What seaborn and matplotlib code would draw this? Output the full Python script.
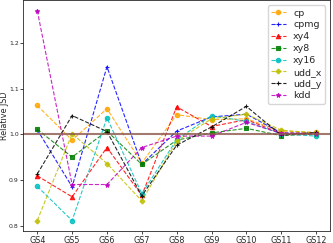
import matplotlib
matplotlib.use("Agg")
import matplotlib.pyplot as plt
import seaborn as sns
import pandas as pd

states = ["GS4", "GS5", "GS6", "GS7", "GS8", "GS9", "GS10", "GS11", "GS12"]
cp     = [1.063, 0.987, 1.056, 0.937, 1.043, 1.032, 1.034, 1.007, 1.004]
cpmg   = [1.010, 0.885, 1.148, 0.934, 1.007, 1.038, 1.044, 1.003, 1.002]
xy4    = [0.909, 0.863, 0.971, 0.866, 1.060, 1.017, 1.032, 1.002, 1.003]
xy8    = [1.011, 0.950, 1.007, 0.934, 0.987, 1.003, 1.013, 0.997, 1.001]
xy16   = [0.886, 0.811, 1.036, 0.870, 0.988, 1.041, 1.028, 1.001, 0.996]
udd_x  = [0.811, 1.001, 0.936, 0.854, 0.985, 1.034, 1.044, 1.009, 1.003]
udd_y  = [0.913, 1.041, 1.006, 0.865, 0.976, 1.016, 1.061, 0.998, 1.004]
kdd    = [1.271, 0.890, 0.890, 0.971, 0.996, 0.996, 1.026, 1.002, 1.001]

series = {"cp": cp, "cpmg": cpmg, "xy4": xy4, "xy8": xy8, "xy16": xy16,
          "udd_x": udd_x, "udd_y": udd_y, "kdd": kdd}
colors = {"cp": "orange", "cpmg": "b", "xy4": "r", "xy8": "g", "xy16": "c",
          "udd_x": "y", "udd_y": "k", "kdd": "m"}
markers = {"cp": "o", "cpmg": "+", "xy4": "^", "xy8": "s", "xy16": "o",
           "udd_x": "P", "udd_y": "+", "kdd": "*"}

sns.set_style("ticks")
plt.rcParams["font.family"] = ["DejaVu Sans"]

fig = plt.figure(figsize=(3.33, 2.43), dpi=100)
ax = fig.add_axes([0.07, 0.049, 0.921, 0.951])

for name, vals in series.items():
    df = pd.DataFrame({"state": states, "val": vals})
    sns.lineplot(data=df, x="state", y="val", ax=ax, sort=False,
                 color=colors[name], linestyle="--", linewidth=0.8,
                 marker=markers[name], markersize=3.2, markeredgewidth=0.8,
                 markeredgecolor=colors[name], alpha=0.85, label=name)

ax.axhline(1.0, color="#8c564b", alpha=0.8, linewidth=1.5)
ax.set_xlabel("")
ax.set_ylabel("Relative JSD", fontsize=5.8)
ax.yaxis.set_label_coords(-0.046, 0.5)
ax.tick_params(axis="x", labelsize=5.8, length=2, width=0.6, pad=1.2)
ax.tick_params(axis="y", labelsize=4.4, length=2, width=0.6, pad=1.2)
for s in ax.spines.values():
    s.set_linewidth(0.6)
ax.set_yticks([0.8, 0.9, 1.0, 1.1, 1.2])
ax.legend(loc="upper right", fontsize=6.8, handlelength=1.5, labelspacing=0.3,
          borderpad=0.4, handletextpad=0.8, frameon=True)

fig.savefig("out.png", dpi=100)
